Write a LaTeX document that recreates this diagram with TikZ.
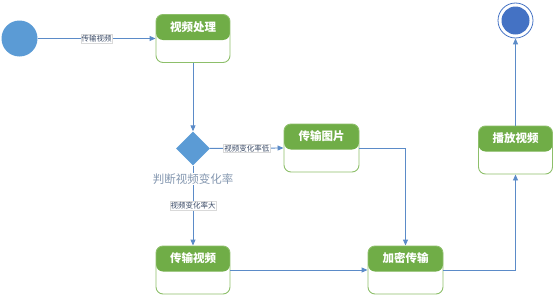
\documentclass[tikz,border=0pt]{standalone}
\usepackage{fontspec}
\setmainfont{Noto Sans CJK SC}
\usetikzlibrary{arrows.meta,shapes.geometric}
\definecolor{hdr}{HTML}{70AD47}
\definecolor{boxline}{HTML}{8DBF6A}
\definecolor{edgec}{HTML}{5B8BC8}
\definecolor{startc}{HTML}{5B9BD5}
\definecolor{endc}{HTML}{4472C4}
\definecolor{labc}{HTML}{3A4A66}
\definecolor{decl}{HTML}{8497B0}
\begin{document}
\begin{tikzpicture}[x=1pt,y=-1pt,
  statebox/.style={draw=boxline, line width=0.9pt, rounded corners=7pt,
    minimum width=74pt, minimum height=48pt, inner sep=0pt,
    path picture={\fill[hdr] ([yshift=-25.5pt]path picture bounding box.north west) rectangle (path picture bounding box.north east);}},
  hdrtext/.style={text=white, font=\bfseries\fontsize{11.5}{12}\selectfont, inner sep=0pt},
  edge/.style={draw=edgec, line width=0.9pt, -{Triangle[length=6pt,width=5pt]}},
  elabel/.style={fill=white, draw=black!15, line width=0.3pt, inner sep=0.8pt, text=labc, font=\fontsize{7.5}{8}\selectfont},
  declabel/.style={fill=white, inner sep=1pt, text=decl, font=\fontsize{11.5}{12}\selectfont}]
\useasboundingbox (0,0) rectangle (554,297);

\node[circle, fill=startc, minimum size=36pt, inner sep=0pt] (start) at (19.5,38.5) {};
\node[circle, draw=endc, line width=0.8pt, minimum size=35pt, inner sep=0pt] (end) at (515.5,20.5) {};
\node[circle, fill=endc, minimum size=28pt, inner sep=0pt] (endin) at (515.5,20.5) {};

\node[statebox] (b1) at (193,38.5) {};
\node[hdrtext] (t1) at ([yshift=-13pt]b1.north) {视频处理};
\node[statebox, minimum width=75pt] (b2) at (321.5,148) {};
\node[hdrtext] (t2) at ([yshift=-12.5pt]b2.north) {传输图片};
\node[statebox] (b3) at (193,270) {};
\node[hdrtext] (t3) at ([yshift=-12.5pt]b3.north) {传输视频};
\node[statebox, minimum width=75pt] (b4) at (405.5,270) {};
\node[hdrtext] (t4) at ([yshift=-12.5pt]b4.north) {加密传输};
\node[statebox] (b5) at (515.5,150) {};
\node[hdrtext] (t5) at ([yshift=-12.5pt]b5.north) {播放视频};

\node[diamond, aspect=1, fill=startc, minimum size=34pt, inner sep=0pt] (dec) at (193,148.5) {};

\draw[edge] (start) -- node[elabel] (l1) {传输视频} (b1);
\draw[edge] (b1) -- (dec);
\draw[edge] (dec) -- node[elabel] (l2) {视频变化率低} (b2.west);
\draw[edge] (dec) -- node[elabel, pos=0.5] (l3) {视频变化率大} (b3);
\node[declabel] (dl) at (193,179) {判断视频变化率};
\draw[edge] (b3) -- (b4);
\draw[edge] (b2.east) -| (b4.north);
\draw[edge] (b4.east) -| (b5.south);
\draw[edge] (b5) -- (end);
\end{tikzpicture}
\end{document}
